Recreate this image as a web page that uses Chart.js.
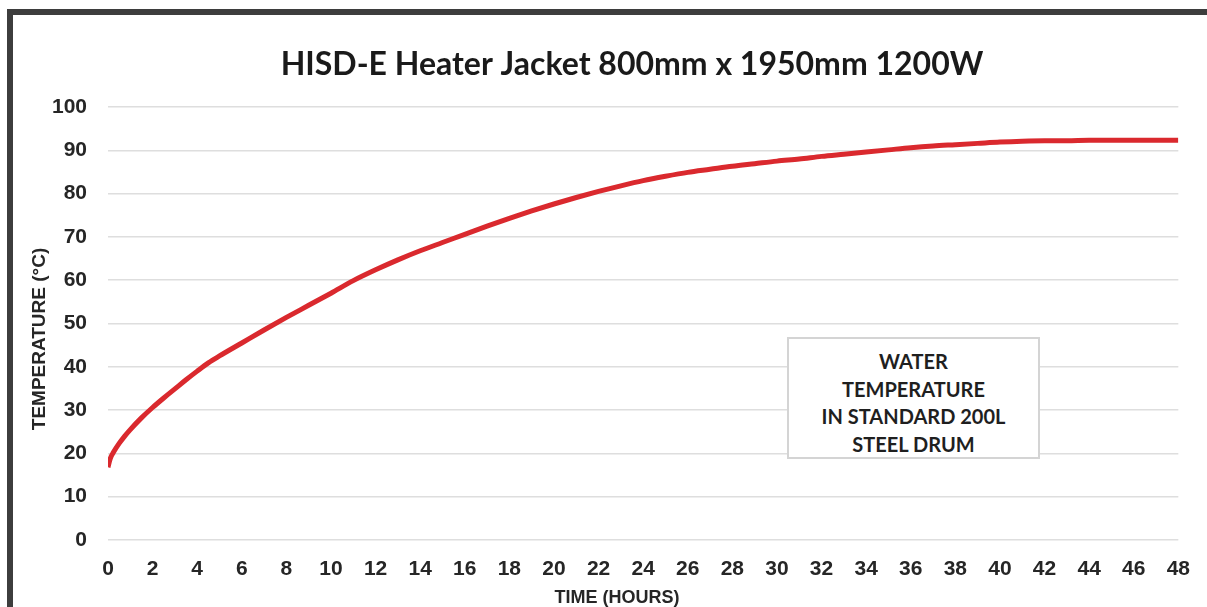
<!DOCTYPE html>
<html>
<head>
<meta charset="utf-8">
<script src="https://cdn.jsdelivr.net/npm/chart.js@4.4.1/dist/chart.umd.min.js"></script>
<style>
  html, body { margin: 0; padding: 0; background: #ffffff; }
  #wrap { position: relative; width: 1207px; height: 607px; overflow: hidden; background: #fff; }
  #frame { position: absolute; left: 7px; top: 9px; width: 1300px; height: 700px;
           border-left: 6px solid #3d3d3d; border-top: 6px solid #3d3d3d; box-sizing: border-box; }
  #c { position: absolute; left: 0; top: 0; }
  #note { position: absolute; left: 787px; top: 337px; width: 253px; height: 122px; box-sizing: border-box;
          border: 2px solid #d4d4d4; background: #fff; text-align: center;
          font-family: Lato, "Open Sans", sans-serif; font-weight: 700; font-size: 20px; line-height: 27.5px;
          color: #1f1f1f; padding-top: 9px; }
</style>
</head>
<body>
<div id="wrap">
  <div id="frame"></div>
  <canvas id="c" width="1207" height="607"></canvas>
  <div id="note">WATER<br>TEMPERATURE<br>IN STANDARD 200L<br>STEEL DRUM</div>
</div>
<script>
const chartTitle = "HISD-E Heater Jacket 800mm x 1950mm 1200W";
const xAxisTitle = "TIME (HOURS)";
const yAxisTitle = "TEMPERATURE (°C)";
const timeHours = [0, 0.1, 0.25, 0.5, 0.75, 1, 1.5, 2, 2.5, 3, 3.5, 4, 4.5, 5, 6, 7, 8, 9, 10, 11, 12, 13, 14, 15, 16, 17, 18, 19, 20, 21, 22, 23, 24, 25, 26, 27, 28, 29, 30, 31, 32, 33, 34, 35, 36, 37, 38, 39, 40, 41, 42, 43, 44, 45, 46, 47, 48];
const temperature = [16.8, 18.8, 20.3, 22.3, 24.0, 25.5, 28.2, 30.6, 32.8, 34.9, 37.0, 39.0, 40.9, 42.5, 45.5, 48.5, 51.4, 54.2, 57.0, 59.9, 62.4, 64.7, 66.8, 68.7, 70.6, 72.5, 74.3, 76.0, 77.6, 79.1, 80.5, 81.8, 83.0, 84.0, 84.9, 85.6, 86.3, 86.9, 87.5, 88.0, 88.6, 89.1, 89.6, 90.1, 90.6, 91.0, 91.3, 91.6, 91.9, 92.1, 92.2, 92.2, 92.3, 92.3, 92.3, 92.3, 92.3];
const xTickStep = 2;
const yTicks = [0, 10, 20, 30, 40, 50, 60, 70, 80, 90, 100];

const points = timeHours.map((t, i) => ({ x: t, y: temperature[i] }));

const textPlugin = {
  id: 'texts',
  afterDraw(chart) {
    const ctx = chart.ctx;
    ctx.save();
    ctx.fillStyle = '#1a1a1a';
    ctx.textAlign = 'center';
    ctx.textBaseline = 'alphabetic';
    ctx.font = '700 32px Lato, "Open Sans", sans-serif';
    ctx.fillText(chartTitle, 632, 75);
    ctx.fillStyle = '#262626';
    ctx.font = '700 18px "Liberation Sans", Arial, sans-serif';
    ctx.fillText(xAxisTitle, 617, 603);
    ctx.font = '700 19px "Liberation Sans", Arial, sans-serif';
    ctx.translate(45, 339);
    ctx.rotate(-Math.PI / 2);
    ctx.fillText(yAxisTitle, 0, 0);
    ctx.restore();
  }
};

new Chart(document.getElementById('c'), {
  type: 'line',
  data: {
    datasets: [{
      data: points,
      borderColor: 'rgb(218,41,46)',
      borderWidth: 5,
      pointRadius: 0,
      cubicInterpolationMode: 'monotone',
      fill: false
    }]
  },
  options: {
    responsive: false,
    animation: false,
    layout: { padding: { top: 107, right: 25, left: 0, bottom: 0 } },
    plugins: { legend: { display: false }, title: { display: false }, tooltip: { enabled: false } },
    scales: {
      x: {
        type: 'linear', min: 0, max: 48,
        grid: { display: false, drawTicks: false },
        border: { display: false },
        ticks: { stepSize: xTickStep, padding: 17, color: '#262626', maxRotation: 0,
                 font: { family: '"Liberation Sans", Arial, sans-serif', size: 21, weight: '700' } },
        afterFit(s) { s.height = 67; }
      },
      y: {
        min: 0, max: 100,
        afterBuildTicks(s) { s.ticks = yTicks.map(v => ({ value: v })); },
        grid: { color: '#dedede', lineWidth: 1.5, drawTicks: false },
        border: { display: false },
        ticks: { padding: 21, color: '#262626',
                 font: { family: '"Liberation Sans", Arial, sans-serif', size: 21, weight: '700' } },
        afterFit(s) { s.width = 108; }
      }
    }
  },
  plugins: [textPlugin]
});
</script>
</body>
</html>
